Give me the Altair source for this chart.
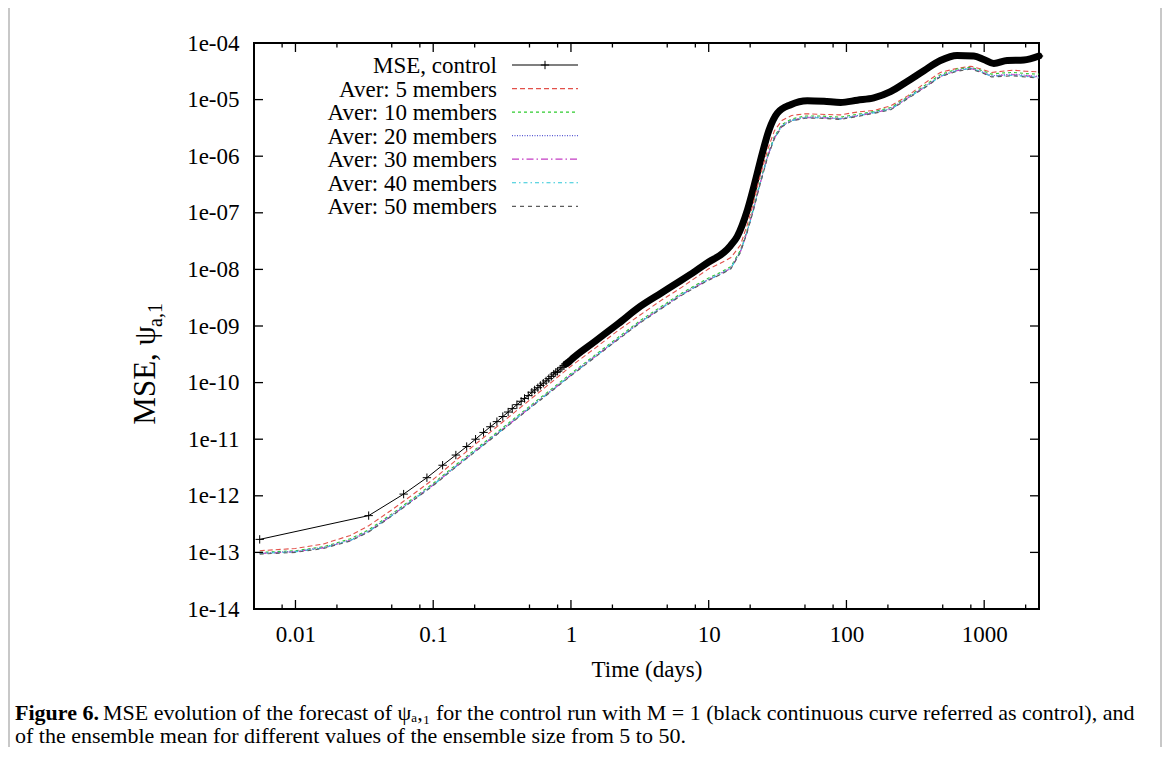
import altair as alt
import pandas as pd

# ---------------- data (time in days, MSE as log10 exponent) -------------
ctrl_t = [0.0055, 0.034, 0.061, 0.09, 0.117, 0.146, 0.175, 0.203, 0.232, 0.26, 0.29, 0.32,
          0.35, 0.375, 0.405, 0.435, 0.46, 0.49, 0.52, 0.545, 0.575, 0.6, 0.63, 0.66, 0.69,
          0.72, 0.75, 0.775, 0.8, 0.835, 0.86, 0.89, 0.92, 0.95, 0.98, 1.0, 1.5, 2.2, 3.2,
          4.5, 6.25, 8.0, 10, 12.9, 14.4, 16.1, 19.1, 21.9, 24.5, 27.4, 31.5, 39.4, 52, 68.7,
          90.7, 120, 158, 209, 276, 365, 481, 635, 840, 993, 1175, 1470, 1940, 2500]
ctrl_exp = [-12.77, -12.35, -11.97, -11.68, -11.46, -11.28, -11.13, -11.00, -10.88, -10.78,
            -10.69, -10.60, -10.52, -10.46, -10.39, -10.33, -10.28, -10.23, -10.17, -10.13,
            -10.09, -10.05, -10.01, -9.97, -9.93, -9.89, -9.85, -9.82, -9.80, -9.76, -9.73,
            -9.70, -9.67, -9.65, -9.62, -9.60, -9.27, -8.96, -8.65, -8.42, -8.20, -8.03,
            -7.87, -7.70, -7.58, -7.42, -6.95, -6.42, -5.95, -5.54, -5.24, -5.09, -5.02,
            -5.03, -5.05, -5.01, -4.97, -4.86, -4.68, -4.49, -4.31, -4.22, -4.23, -4.29,
            -4.36, -4.31, -4.30, -4.23]

ens_t = [0.0055, 0.01, 0.016, 0.025, 0.034, 0.05, 0.07, 0.1, 0.15, 0.2, 0.3, 0.5, 0.7, 1.0,
         1.5, 2.2, 3.2, 4.5, 6.25, 8.0, 10, 12, 14.5, 17, 19, 21, 23, 25, 27, 30, 34, 40, 50,
         65, 90, 120, 160, 210, 280, 365, 480, 630, 800, 950, 1130, 1350, 1620, 2000, 2500]
aver5_exp = [-12.97, -12.93, -12.85, -12.70, -12.53, -12.25, -11.99, -11.71, -11.35, -11.10,
             -10.75, -10.31, -10.02, -9.71, -9.39, -9.08, -8.80, -8.55, -8.33, -8.15,
             -7.99, -7.90, -7.79, -7.57, -7.22, -6.85, -6.45, -6.14, -5.86, -5.55,
             -5.37, -5.28, -5.25, -5.26, -5.27, -5.22, -5.19, -5.11, -4.93, -4.72,
             -4.52, -4.45, -4.41, -4.46, -4.52, -4.50, -4.48, -4.50, -4.51]
aver10_exp = [-13.00, -12.97, -12.90, -12.76, -12.60, -12.32, -12.06, -11.78, -11.43, -11.19,
              -10.85, -10.42, -10.14, -9.84, -9.51, -9.20, -8.90, -8.66, -8.43, -8.28,
              -8.15, -8.06, -7.95, -7.66, -7.31, -6.94, -6.56, -6.24, -5.95, -5.65,
              -5.44, -5.34, -5.29, -5.29, -5.31, -5.26, -5.21, -5.14, -4.95, -4.76,
              -4.56, -4.46, -4.43, -4.48, -4.55, -4.53, -4.52, -4.54, -4.55]
aver20_exp = [-13.01, -12.98, -12.91, -12.78, -12.62, -12.34, -12.08, -11.80, -11.45, -11.21,
              -10.87, -10.44, -10.16, -9.86, -9.53, -9.22, -8.92, -8.68, -8.45, -8.30,
              -8.17, -8.08, -7.97, -7.68, -7.33, -6.96, -6.58, -6.26, -5.97, -5.67,
              -5.46, -5.36, -5.31, -5.31, -5.33, -5.28, -5.22, -5.16, -4.96, -4.78,
              -4.58, -4.48, -4.44, -4.50, -4.58, -4.56, -4.55, -4.57, -4.59]
aver30_exp = [-13.02, -12.99, -12.92, -12.79, -12.63, -12.35, -12.09, -11.81, -11.46, -11.22,
              -10.88, -10.45, -10.17, -9.87, -9.54, -9.23, -8.93, -8.69, -8.46, -8.31,
              -8.18, -8.09, -7.98, -7.69, -7.34, -6.97, -6.59, -6.27, -5.98, -5.68,
              -5.47, -5.37, -5.32, -5.32, -5.34, -5.29, -5.23, -5.17, -4.97, -4.79,
              -4.59, -4.49, -4.45, -4.51, -4.59, -4.57, -4.56, -4.58, -4.60]
aver40_exp = [-13.02, -12.99, -12.92, -12.79, -12.63, -12.35, -12.09, -11.81, -11.46, -11.22,
              -10.88, -10.45, -10.17, -9.87, -9.54, -9.23, -8.93, -8.69, -8.46, -8.31,
              -8.18, -8.09, -7.98, -7.69, -7.34, -6.97, -6.59, -6.27, -5.98, -5.68,
              -5.47, -5.37, -5.32, -5.32, -5.34, -5.29, -5.23, -5.17, -4.97, -4.79,
              -4.59, -4.49, -4.45, -4.51, -4.59, -4.58, -4.57, -4.59, -4.61]
aver50_exp = [-13.03, -13.00, -12.93, -12.80, -12.64, -12.36, -12.10, -11.82, -11.47, -11.23,
              -10.89, -10.46, -10.18, -9.88, -9.55, -9.24, -8.94, -8.70, -8.47, -8.32,
              -8.19, -8.10, -7.99, -7.70, -7.35, -6.98, -6.60, -6.28, -5.99, -5.69,
              -5.48, -5.38, -5.33, -5.33, -5.35, -5.30, -5.24, -5.18, -4.98, -4.80,
              -4.60, -4.50, -4.46, -4.52, -4.60, -4.59, -4.58, -4.60, -4.62]

series_names = ["MSE, control", "Aver: 5 members", "Aver: 10 members", "Aver: 20 members",
                "Aver: 30 members", "Aver: 40 members", "Aver: 50 members"]
series_colors = ["#000000", "#e2504a", "#2ecc2e", "#5a5ad2", "#c43cc4", "#2ec8d8", "#5c5c5c"]
series_dashes = [[1, 0], [5, 3], [3, 3], [1, 1.5], [7, 3, 1.5, 3], [4, 3, 1.5, 3], [4, 4]]

x_major = [0.01, 0.1, 1, 10, 100, 1000]
x_minor = [0.008, 0.02, 0.05, 0.08, 0.2, 0.5, 0.8, 2, 5, 8, 20, 50, 80, 200, 500, 800, 2000]
y_major = [1e-14, 1e-13, 1e-12, 1e-11, 1e-10, 1e-9, 1e-8, 1e-7, 1e-6, 1e-5, 1e-4]

# ---------------- tables ----------------
rows = []
for name, exps in zip(series_names[1:], [aver5_exp, aver10_exp, aver20_exp, aver30_exp,
                                          aver40_exp, aver50_exp]):
    for i, (t, e) in enumerate(zip(ens_t, exps)):
        rows.append({"series": name, "t": t, "mse": 10 ** e, "i": i})
ens_df = pd.DataFrame(rows)
ctrl_df = pd.DataFrame({"t": ctrl_t, "mse": [10 ** e for e in ctrl_exp],
                        "i": list(range(len(ctrl_t)))})
one = pd.DataFrame({"k": [0]})

W, H = 785, 566
FONT = "Liberation Serif"
xs = alt.Scale(type="log", domain=[0.005, 2500], nice=False)
ys = alt.Scale(type="log", domain=[1e-14, 1e-4], nice=False)

x_axis = alt.Axis(values=x_major, format="~g", grid=False, ticks=False, domain=False,
                  labelFont=FONT, labelFontSize=23, labelPadding=14, labelColor="black",
                  title="Time (days)", titleFont=FONT, titleFontSize=23,
                  titleFontWeight="normal", titlePadding=12, titleColor="black")
y_axis = alt.Axis(values=y_major, grid=False, ticks=False, domain=False,
                  labelExpr="'1e-' + (round(-log(datum.value)/LN10) < 10 ? '0' : '') + round(-log(datum.value)/LN10)",
                  labelFont=FONT, labelFontSize=23, labelPadding=15, labelColor="black",
                  title=None)

ens_lines = alt.Chart(ens_df).mark_line(strokeWidth=1.1).encode(
    x=alt.X("t:Q", scale=xs, axis=x_axis),
    y=alt.Y("mse:Q", scale=ys, axis=y_axis),
    color=alt.Color("series:N", scale=alt.Scale(domain=series_names[1:], range=series_colors[1:]),
                    legend=None),
    strokeDash=alt.StrokeDash("series:N", scale=alt.Scale(domain=series_names[1:],
                                                          range=series_dashes[1:]), legend=None),
    order="i:Q",
)

ctrl_thin = alt.Chart(ctrl_df).mark_line(color="black", strokeWidth=1).encode(
    x=alt.X("t:Q", scale=xs), y=alt.Y("mse:Q", scale=ys), order="i:Q")
ctrl_thick = alt.Chart(ctrl_df).transform_filter("datum.t >= 0.9").mark_line(
    color="black", strokeWidth=7, strokeJoin="round", strokeCap="round",
    interpolate="monotone").encode(
    x=alt.X("t:Q", scale=xs), y=alt.Y("mse:Q", scale=ys), order="i:Q")
PLUS = "M-1,0L1,0M0,-1L0,1"
ctrl_pts = alt.Chart(ctrl_df).transform_filter("datum.t <= 1.0 || datum.t > 2400").mark_point(
    shape=PLUS, filled=False, stroke="black", strokeWidth=1, size=70, opacity=1).encode(
    x=alt.X("t:Q", scale=xs), y=alt.Y("mse:Q", scale=ys))

# ---------------- inward ticks (mirrored) ----------------
xmaj_df = pd.DataFrame({"t": x_major})
xmin_df = pd.DataFrame({"t": x_minor})
ymaj_df = pd.DataFrame({"v": y_major[1:-1]})
tick_layers = []
for df, L in [(xmaj_df, 9), (xmin_df, 4.5)]:
    tick_layers.append(alt.Chart(df).mark_rule(color="black", strokeWidth=1.3).encode(
        x=alt.X("t:Q", scale=xs), y=alt.value(H), y2=alt.value(H - L)))
    tick_layers.append(alt.Chart(df).mark_rule(color="black", strokeWidth=1.3).encode(
        x=alt.X("t:Q", scale=xs), y=alt.value(0), y2=alt.value(L)))
tick_layers.append(alt.Chart(ymaj_df).mark_rule(color="black", strokeWidth=1.3).encode(
    y=alt.Y("v:Q", scale=ys), x=alt.value(0), x2=alt.value(9)))
tick_layers.append(alt.Chart(ymaj_df).mark_rule(color="black", strokeWidth=1.3).encode(
    y=alt.Y("v:Q", scale=ys), x=alt.value(W - 9), x2=alt.value(W)))

# ---------------- legend (gnuplot style: text right, sample to the right) ----------------
leg = []
for k, name in enumerate(series_names):
    yy = 22 + 23.55 * k
    leg.append(alt.Chart(one).mark_text(align="right", baseline="middle", font=FONT,
                                        fontSize=23, color="black", text=name).encode(
        x=alt.value(243), y=alt.value(yy + 1)))
    leg.append(alt.Chart(one).mark_rule(color=series_colors[k], strokeWidth=1.2,
                                        strokeDash=series_dashes[k]).encode(
        x=alt.value(258), x2=alt.value(324), y=alt.value(yy)))
leg.append(alt.Chart(one).mark_point(shape=PLUS, filled=False, stroke="black", strokeWidth=1,
                                     size=70, opacity=1).encode(
    x=alt.value(291), y=alt.value(22)))

# ---------------- y title ----------------
ytitle = [
    alt.Chart(one).mark_text(angle=270, align="right", baseline="alphabetic", font=FONT,
                             fontSize=31, color="black", text="MSE, ψ").encode(
        x=alt.value(-99), y=alt.value(283)),
    alt.Chart(one).mark_text(angle=270, align="left", baseline="alphabetic", font=FONT,
                             fontSize=20, color="black", text="a,1").encode(
        x=alt.value(-92), y=alt.value(284)),
]

# ---------------- caption ----------------
CAP = 22
cap = [
    alt.Chart(one).mark_text(align="left", baseline="middle", font=FONT, fontSize=CAP,
                             fontWeight="bold", color="black", text="Figure 6.").encode(
        x=alt.value(-239), y=alt.value(670)),
    alt.Chart(one).mark_text(align="left", baseline="middle", font=FONT, fontSize=CAP,
                             color="black",
                             text="MSE evolution of the forecast of ψₐ,₁ for the control run with M = 1 (black continuous curve referred as control), and").encode(
        x=alt.value(-151), y=alt.value(670)),
    alt.Chart(one).mark_text(align="left", baseline="middle", font=FONT, fontSize=CAP,
                             color="black",
                             text="of the ensemble mean for different values of the ensemble size from 5 to 50.").encode(
        x=alt.value(-239), y=alt.value(693)),
]

# ---------------- light page frame ----------------
frame = [
    alt.Chart(one).mark_rule(color="#c8c8c8", strokeWidth=2).encode(
        x=alt.value(-245), y=alt.value(-36), y2=alt.value(710)),
    alt.Chart(one).mark_rule(color="#c8c8c8", strokeWidth=2).encode(
        x=alt.value(907), y=alt.value(-36), y2=alt.value(710)),
]

chart = alt.layer(*frame, ctrl_thin, ctrl_thick, ctrl_pts, ens_lines, *tick_layers, *leg,
                  *ytitle, *cap).properties(
    width=W, height=H,
    autosize=alt.AutoSizeParams(type="none"),
    padding={"left": 246, "top": 35, "right": 123, "bottom": 138},
).configure_view(stroke="black", strokeWidth=2)

chart.save("out.html", embed_options={"renderer": "svg", "actions": False})
